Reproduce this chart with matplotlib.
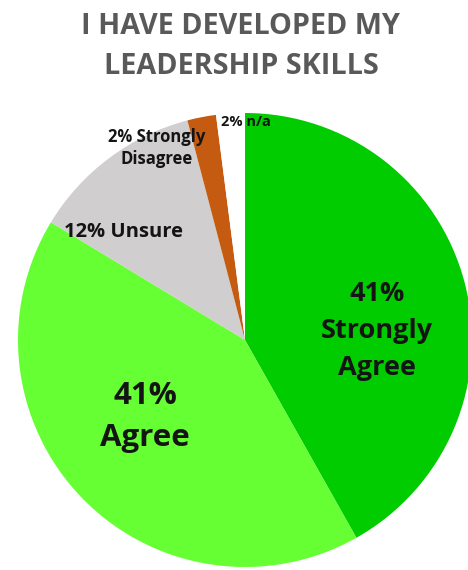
import matplotlib.pyplot as plt

# --- Data ---
categories = ["Strongly Agree", "Agree", "Unsure", "Strongly Disagree", "n/a"]
percent = [41, 41, 12, 2, 2]
label_text = ["{p}%\nStrongly\nAgree", "{p}%\nAgree", "{p}% Unsure", "{p}% Strongly\nDisagree", "{p}% n/a"]
colors = ["#00CC00", "#66FF33", "#D0CECE", "#C55A11", "#FFFFFF"]

# label centres in pixels (from top-left) and font sizes
label_pos = [(377, 331), (145, 417), (123, 232), (157, 148), (246, 122)]
label_size = [19.5, 22.5, 14.5, 12, 10.5]
label_spacing = [1.55, 1.55, 1.2, 1.3, 1.2]

W, H = 468, 570
cx, cy, r = 245, 340, 227

plt.rcParams['font.family'] = ['Open Sans', 'DejaVu Sans']

fig = plt.figure(figsize=(W / 100, H / 100), dpi=100)

# --- Title ---
fig.text(240 / W, 1 - 27 / H, "I HAVE DEVELOPED MY", ha="center", va="center",
         fontsize=20.7, fontweight="bold", color="#595959")
fig.text(241 / W, 1 - 67 / H, "LEADERSHIP SKILLS", ha="center", va="center",
         fontsize=20.7, fontweight="bold", color="#595959")

# --- Pie ---
ax = fig.add_axes([(cx - r) / W, (H - cy - r) / H, 2 * r / W, 2 * r / H])
ax.pie(percent, colors=colors, startangle=90, counterclock=False, radius=1,
       wedgeprops=dict(linewidth=0))
ax.set_xlim(-1, 1)
ax.set_ylim(-1, 1)
ax.axis("off")

for txt, p, (px, py), fs, ls in zip(label_text, percent, label_pos, label_size, label_spacing):
    ax.text((px - cx) / r, (cy - py) / r, txt.format(p=p), ha="center", va="center",
            fontsize=fs, fontweight="bold", color="#141414", linespacing=ls)

fig.savefig("out.png", dpi=100)
